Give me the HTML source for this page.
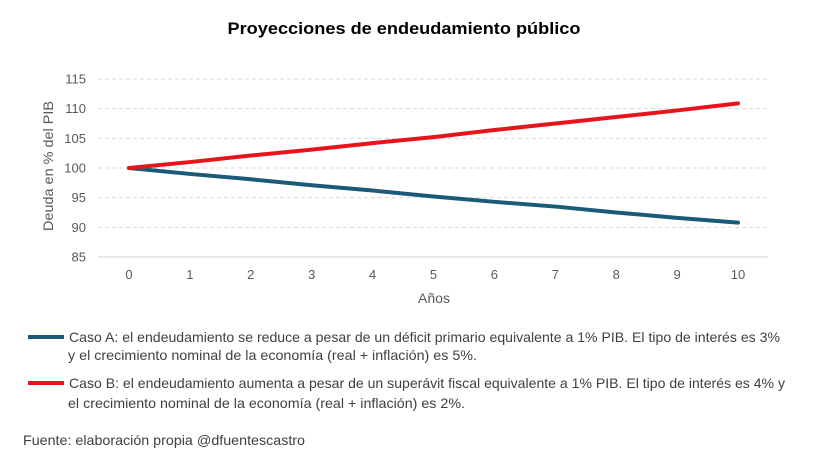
<!DOCTYPE html>
<html><head><meta charset="utf-8"><style>
body{margin:0;background:#fff;}
svg{display:block;font-family:"Liberation Sans",sans-serif;}
</style></head><body>
<svg id="chart" width="813" height="474" viewBox="0 0 813 474">
<rect width="813" height="474" fill="#fff"/>
<text x="404" y="34" text-anchor="middle" font-size="17" font-weight="bold" fill="#000" textLength="353" lengthAdjust="spacingAndGlyphs">Proyecciones de endeudamiento público</text>
<g id="grid"></g>
<g id="yticks"></g>
<g id="xticks"></g>
<text transform="translate(53,166) rotate(-90)" text-anchor="middle" font-size="14" fill="#595959" textLength="130" lengthAdjust="spacingAndGlyphs">Deuda en % del PIB</text>
<text x="434" y="303" text-anchor="middle" font-size="14" fill="#595959">Años</text>
<g id="series"></g>
<g font-family="'Liberation Sans Narrow','Liberation Sans',sans-serif" font-size="14" fill="#404040">
<line x1="28" y1="337" x2="64" y2="337" stroke="#1b5a78" stroke-width="4"/>
<text x="69" y="342" textLength="711" lengthAdjust="spacingAndGlyphs">Caso A: el endeudamiento se reduce a pesar de un déficit primario equivalente a 1% PIB. El tipo de interés es 3%</text>
<text x="68" y="360" textLength="409" lengthAdjust="spacingAndGlyphs">y el crecimiento nominal  de la economía (real + inflación) es 5%.</text>
<line x1="28" y1="383" x2="64" y2="383" stroke="#e8141b" stroke-width="4"/>
<text x="69" y="388" textLength="716" lengthAdjust="spacingAndGlyphs">Caso B: el endeudamiento aumenta a pesar de un superávit fiscal equivalente a 1% PIB. El tipo de interés es 4% y</text>
<text x="68" y="408" textLength="397" lengthAdjust="spacingAndGlyphs">el crecimiento nominal de la economía (real + inflación) es 2%.</text>
<text x="23" y="445" textLength="282" lengthAdjust="spacingAndGlyphs">Fuente: elaboración propia @dfuentescastro</text>
</g>
</svg>
<script>
const years = [0,1,2,3,4,5,6,7,8,9,10];
const casoA = [100,99.0,98.1,97.1,96.2,95.2,94.3,93.5,92.5,91.6,90.8];
const casoB = [100,101.0,102.1,103.1,104.2,105.2,106.4,107.5,108.6,109.7,110.9];
const yTicks = [85,90,95,100,105,110,115];
const NS='http://www.w3.org/2000/svg';
const xs = v => 129 + v*(738-129)/10;
const ys = v => 257 - (v-85)*(257-79)/30;
function mk(tag, attrs, parent){const e=document.createElementNS(NS,tag);for(const k in attrs)e.setAttribute(k,attrs[k]);document.getElementById(parent).appendChild(e);return e;}
yTicks.forEach(t=>{
  const l=mk('line',{x1:98,x2:768,y1:ys(t),y2:ys(t),stroke:t===85?'#d0d0d0':'#d9d9d9','stroke-width':1,'stroke-dasharray':t===85?'none':'4 3'},'grid');
  
  
  const tx=mk('text',{x:86,y:ys(t)+4.5,'text-anchor':'end','font-size':13,fill:'#595959'},'yticks');
  tx.textContent=t;
  
  
});
years.forEach(y=>{
  const tx=mk('text',{x:xs(y),y:279,'text-anchor':'middle','font-size':13,fill:'#595959'},'xticks');
  tx.textContent=y;
  
  
});
function line(vals,color,name){
  const p=mk('polyline',{points:vals.map((v,i)=>xs(years[i])+','+ys(v)).join(' '),fill:'none',stroke:color,'stroke-width':4,'stroke-linejoin':'round','stroke-linecap':'round'},'series');
  
  
}
line(casoA,'#1b5a78','series-caso-a');
line(casoB,'#e8141b','series-caso-b');
</script>
</body></html>
